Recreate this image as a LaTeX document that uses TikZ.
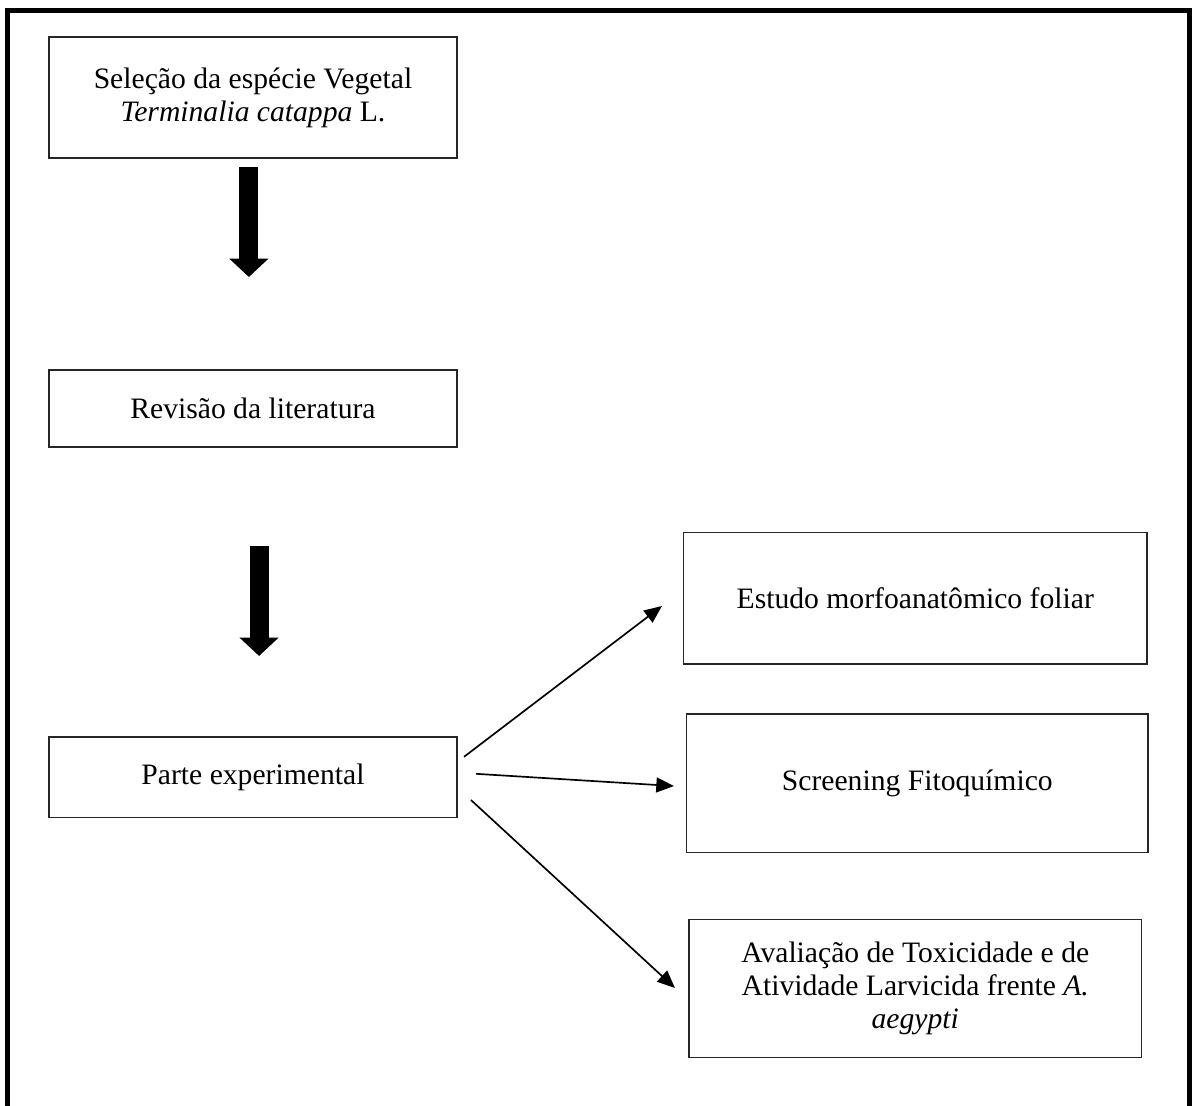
\documentclass[tikz,border=0pt]{standalone}
\usepackage{fontspec}
\setmainfont{Liberation Serif}
\usetikzlibrary{arrows.meta}
\tikzset{>=latex}
\tikzset{etapa/.style={draw=black!85,line width=0.6pt,rectangle,align=center,
    font=\fontsize{12.4}{13.8}\selectfont,inner sep=2pt}}
\tikzset{seta/.style={line width=0.7pt,-{Triangle[length=0.26cm,width=0.22cm]}}}
\tikzset{setagrossa/.style={line width=0.28cm,-{Triangle[length=0.27cm,width=0.56cm]}}}

\begin{document}
\begin{tikzpicture}
  \useasboundingbox (0,0) rectangle (17.53,-16.265);
  % moldura aberta em baixo
  \draw[line width=2.1pt] (0.11,-16.265) -- (0.11,-0.154) -- (17.50,-0.154) -- (17.50,-16.265);

  \node[etapa,minimum width=6.0cm,minimum height=1.78cm] (selecao) at (3.72,-1.434)
    {Seleção da espécie Vegetal\\ \textit{Terminalia catappa} L.};
  \node[etapa,minimum width=6.0cm,minimum height=1.13cm] (revisao) at (3.72,-6.007)
    {Revisão da literatura};
  \node[etapa,minimum width=6.0cm,minimum height=1.18cm] (parte) at (3.72,-11.43)
    {Parte experimental};

  \node[etapa,minimum width=6.81cm,minimum height=1.93cm] (estudo) at (13.46,-8.80)
    {Estudo morfoanatômico foliar};
  \node[etapa,minimum width=6.79cm,minimum height=2.04cm] (screening) at (13.49,-11.52)
    {Screening Fitoquímico};
  \node[etapa,minimum width=6.66cm,minimum height=2.03cm] (avaliacao) at (13.46,-14.54)
    {Avaliação de Toxicidade e de\\ Atividade Larvicida frente \textit{A.}\\ \textit{aegypti}};

  % setas grossas
  \coordinate (s1a) at (3.66,-2.456);
  \coordinate (s1b) at (3.66,-4.074);
  \coordinate (s2a) at (3.81,-8.03);
  \coordinate (s2b) at (3.81,-9.647);
  \draw[setagrossa] (s1a) -- (s1b);
  \draw[setagrossa] (s2a) -- (s2b);

  % setas finas
  \coordinate (pa) at (6.824,-11.13);
  \coordinate (pb) at (7.0,-11.38);
  \coordinate (pc) at (6.926,-11.765);
  \coordinate (ea) at (9.735,-8.912);
  \coordinate (eb) at (9.912,-11.56);
  \coordinate (ec) at (9.926,-14.53);
  \draw[seta] (pa) -- (ea);
  \draw[seta] (pb) -- (eb);
  \draw[seta] (pc) -- (ec);

\end{tikzpicture}
\end{document}
